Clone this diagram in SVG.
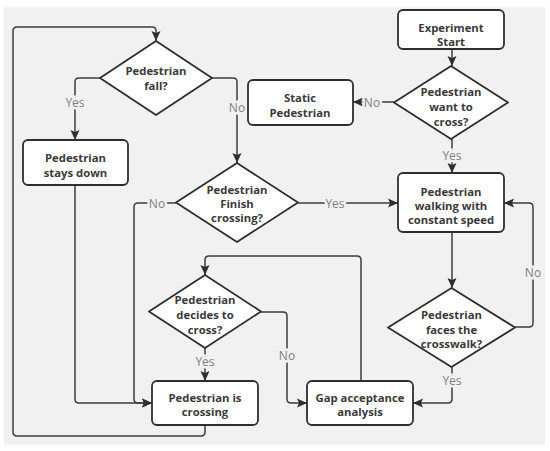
<svg xmlns="http://www.w3.org/2000/svg" width="550" height="451" viewBox="0 0 550 451">
<style>
.node rect,.node path{fill:#fff;stroke:#2e2e2e;stroke-width:1.8;stroke-linejoin:round}
.node text{font-family:"Open Sans","Liberation Sans",sans-serif;font-weight:bold;font-size:11.3px;fill:#3a3a3a;text-anchor:middle}
.edges path{fill:none;stroke:#3c3c3c;stroke-width:1.5}
.lbl{font-family:"Open Sans","Liberation Sans",sans-serif;font-size:12px;fill:#808080;text-anchor:middle;stroke:#f1f1f1;stroke-width:5;paint-order:stroke;dominant-baseline:central}
</style>
<defs>
<marker id="ah" markerUnits="userSpaceOnUse" markerWidth="12" markerHeight="12" viewBox="0 0 12 12" refX="11" refY="6" orient="auto">
<path d="M1,1.5 L11,6 L1,10.5 L3,6 Z" fill="#2e2e2e"/>
</marker>
</defs>
<rect x="0" y="0" width="550" height="451" fill="#fff"/>
<rect x="4" y="7" width="541" height="438" fill="#f1f1f1"/>
<g class="edges">
<path d="M452,49 L452,66" marker-end="url(#ah)"/>
<path d="M394,102 L353,102" marker-end="url(#ah)"/>
<path d="M452,139 L452,173" marker-end="url(#ah)"/>
<path d="M452,232 L452,288" marker-end="url(#ah)"/>
<path d="M515,327 L529,327 Q533,327 533,323 L533,207 Q533,203 529,203 L504,203" marker-end="url(#ah)"/>
<path d="M452,367 L452,399 Q452,403 448,403 L413,403" marker-end="url(#ah)"/>
<path d="M361,381 L361,260 Q361,256 357,256 L209,256 Q205,256 205,260 L205,275" marker-end="url(#ah)"/>
<path d="M261,312 L283,312 Q287,312 287,316 L287,399 Q287,403 291,403 L307,403" marker-end="url(#ah)"/>
<path d="M205,348 L205,381" marker-end="url(#ah)"/>
<path d="M205,425 L205,432 Q205,436 201,436 L17,436 Q13,436 13,432 L13,31 Q13,27 17,27 L152,27 Q156,27 156,31 L156,41" marker-end="url(#ah)"/>
<path d="M100,78 L79,78 Q75,78 75,82 L75,140" marker-end="url(#ah)"/>
<path d="M212,78 L233,78 Q237,78 237,82 L237,163" marker-end="url(#ah)"/>
<path d="M75,185 L75,399 Q75,403 79,403 L152,403" marker-end="url(#ah)"/>
<path d="M176,203 L138,203 Q134,203 134,207 L134,399 Q134,403 138,403 L152,403" marker-end="url(#ah)"/>
<path d="M298,203 L398,203" marker-end="url(#ah)"/>
<text class="lbl" x="372" y="102">No</text>
<text class="lbl" x="452" y="155">Yes</text>
<text class="lbl" x="533" y="272">No</text>
<text class="lbl" x="452" y="380">Yes</text>
<text class="lbl" x="287" y="355">No</text>
<text class="lbl" x="205" y="361">Yes</text>
<text class="lbl" x="75" y="102">Yes</text>
<text class="lbl" x="237" y="107">No</text>
<text class="lbl" x="157" y="203">No</text>
<text class="lbl" x="335" y="203">Yes</text>
</g>
<g id="start" class="node"><rect x="398" y="10" width="106" height="39" rx="5"/><text x="451" y="32">Experiment</text><text x="451" y="46">Start</text></g>
<g id="want" class="node"><path d="M451,66 L508,102.5 L451,139 L394,102.5 Z"/><text x="451" y="96">Pedestrian</text><text x="451" y="111">want to</text><text x="451" y="126">cross?</text></g>
<g id="static" class="node"><rect x="248" y="80" width="105" height="45" rx="5"/><text x="300" y="102">Static</text><text x="300" y="117">Pedestrian</text></g>
<g id="fall" class="node"><path d="M156,41 L212,78 L156,115 L100,78 Z"/><text x="156" y="75">Pedestrian</text><text x="156" y="90">fall?</text></g>
<g id="stays" class="node"><rect x="23" y="140" width="105" height="45" rx="5"/><text x="75.5" y="162">Pedestrian</text><text x="75.5" y="177">stays down</text></g>
<g id="finish" class="node"><path d="M237,163 L298,202.5 L237,242 L176,202.5 Z"/><text x="237" y="194">Pedestrian</text><text x="237" y="208">Finish</text><text x="237" y="222">crossing?</text></g>
<g id="walking" class="node"><rect x="398" y="173" width="106" height="59" rx="5"/><text x="451" y="196">Pedestrian</text><text x="451" y="210">walking with</text><text x="451" y="224">constant speed</text></g>
<g id="faces" class="node"><path d="M451.5,288 L515,327.5 L451.5,367 L388,327.5 Z"/><text x="451.5" y="319">Pedestrian</text><text x="451.5" y="334">faces the</text><text x="451.5" y="348">crosswalk?</text></g>
<g id="decides" class="node"><path d="M205,275 L261,311.5 L205,348 L149,311.5 Z"/><text x="205" y="304">Pedestrian</text><text x="205" y="319">decides to</text><text x="205" y="334">cross?</text></g>
<g id="gap" class="node"><rect x="307" y="381" width="106" height="44" rx="5"/><text x="360" y="402">Gap acceptance</text><text x="360" y="416">analysis</text></g>
<g id="crossing" class="node"><rect x="152" y="381" width="106" height="44" rx="5"/><text x="205" y="402">Pedestrian is</text><text x="205" y="416">crossing</text></g>
</svg>
